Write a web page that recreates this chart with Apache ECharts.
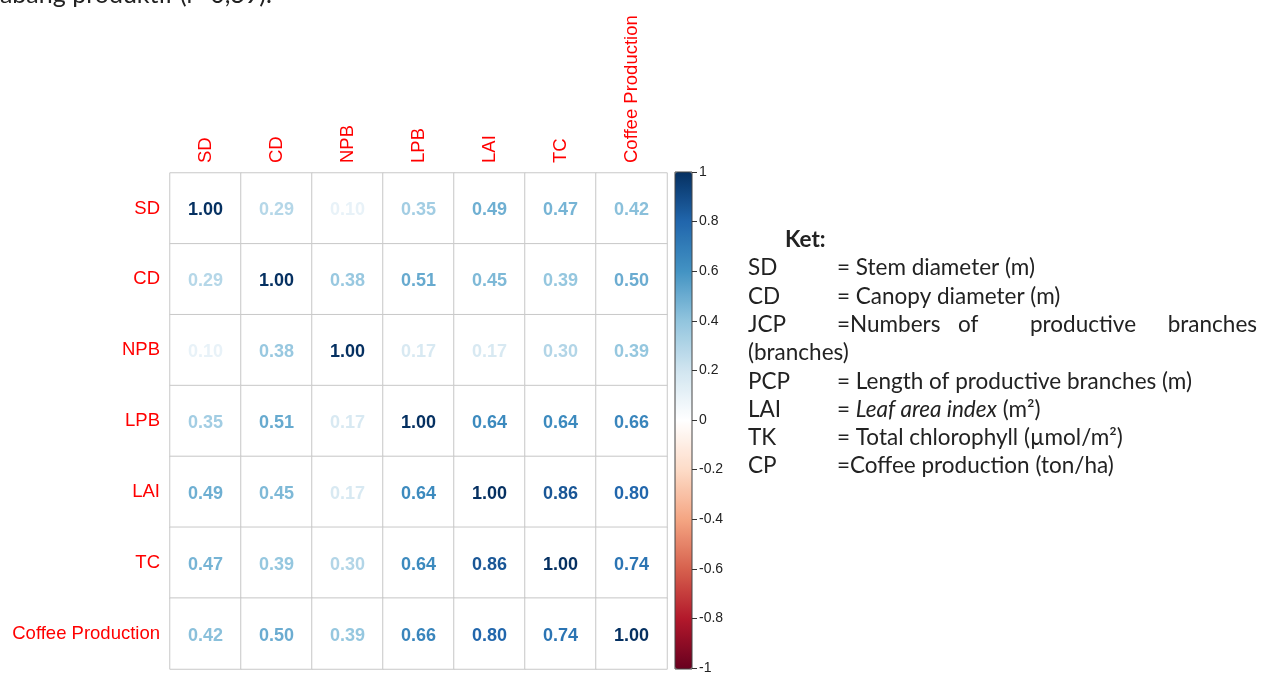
<!DOCTYPE html>
<html>
<head>
<meta charset="utf-8">
<script src="https://cdn.jsdelivr.net/npm/echarts@6/dist/echarts.min.js"></script>
<style>
  html, body { margin: 0; padding: 0; background: #fff; }
  #main { width: 1268px; height: 675px; }
</style>
</head>
<body>
<div id="main"></div>
<script>
// variable names (same order for rows and columns)
var vars = ['SD', 'CD', 'NPB', 'LPB', 'LAI', 'TC', 'Coffee Production'];

// correlation matrix, one row per variable
var rowSD  = [1.00, 0.29, 0.10, 0.35, 0.49, 0.47, 0.42];
var rowCD  = [0.29, 1.00, 0.38, 0.51, 0.45, 0.39, 0.50];
var rowNPB = [0.10, 0.38, 1.00, 0.17, 0.17, 0.30, 0.39];
var rowLPB = [0.35, 0.51, 0.17, 1.00, 0.64, 0.64, 0.66];
var rowLAI = [0.49, 0.45, 0.17, 0.64, 1.00, 0.86, 0.80];
var rowTC  = [0.47, 0.39, 0.30, 0.64, 0.86, 1.00, 0.74];
var rowCP  = [0.42, 0.50, 0.39, 0.66, 0.80, 0.74, 1.00];

// colour bar ticks
var barTicks = [1, 0.8, 0.6, 0.4, 0.2, 0, -0.2, -0.4, -0.6, -0.8, -1];

// RdBu palette, -1 .. 1
var palette = ['#67001F', '#B2182B', '#D6604D', '#F4A582', '#FDDBC7', '#FFFFFF',
               '#D1E5F0', '#92C5DE', '#4393C3', '#2166AC', '#053061'];

var rows = [rowSD, rowCD, rowNPB, rowLPB, rowLAI, rowTC, rowCP];

var cells = [];
rows.forEach(function (row, i) {
    row.forEach(function (v, j) {
        cells.push({
            value: [j, i, v],
            label: { color: echarts.color.lerp((v + 1) / 2, palette) }
        });
    });
});

var chart = echarts.init(document.getElementById('main'));

var labelFont = 'Liberation Sans, Arial, sans-serif';
var noteFont = 'Lato, Carlito, Calibri, sans-serif';

function note(x, y, text, extra) {
    var st = {
        text: text,
        x: 0, y: 0,
        font: '22.5px ' + noteFont,
        fill: '#222',
        verticalAlign: 'middle'
    };
    if (extra) { Object.assign(st, extra); }
    return { type: 'text', x: x, y: y, style: st };
}

var option = {
    animation: false,
    grid: [
        { left: 170, top: 173, width: 497, height: 496 },
        { left: 675, top: 172, width: 17, height: 497, show: true,
          borderColor: '#444', borderWidth: 1, backgroundColor: 'transparent', z: 10 },
        // thin strip right of the colour bar that carries the tick axis
        { left: 692, top: 172, width: 30, height: 497 }
    ],
    xAxis: [
        {
            type: 'category', data: vars, position: 'top', gridIndex: 0,
            axisLine: { show: false }, axisTick: { show: false }, splitLine: { show: false },
            axisLabel: { rotate: -90, color: '#FF0000', fontSize: 18.5, fontFamily: labelFont, margin: 10 }
        },
        { type: 'value', gridIndex: 1, min: 0, max: 1, show: false },
        { type: 'value', gridIndex: 2, min: 0, max: 1, show: false }
    ],
    yAxis: [
        {
            type: 'category', data: vars, inverse: true, gridIndex: 0,
            axisLine: { show: false }, axisTick: { show: false }, splitLine: { show: false },
            axisLabel: { color: '#FF0000', fontSize: 18.5, fontFamily: labelFont, margin: 10 }
        },
        { type: 'value', gridIndex: 1, min: -1, max: 1, show: false },
        {
            type: 'value', gridIndex: 2, position: 'left', min: -1, max: 1, interval: 0.2, z: 12,
            axisLine: { show: false },
            splitLine: { show: false },
            axisTick: { show: true, inside: true, length: 5, lineStyle: { color: '#333', width: 1 } },
            axisLabel: {
                inside: true,
                color: '#222', fontSize: 14, fontFamily: labelFont, margin: 7,
                formatter: function (v) {
                    var r = Math.round(v * 10) / 10;
                    return barTicks.indexOf(r) >= 0 ? String(r) : '';
                }
            }
        }
    ],
    visualMap: {
        type: 'continuous', min: -1, max: 1, seriesIndex: 1,
        left: 675, top: 172, itemWidth: 17, itemHeight: 497, padding: 0,
        calculable: false, text: null, hoverLink: false,
        inRange: { color: palette }
    },
    series: [
        {
            type: 'heatmap', xAxisIndex: 0, yAxisIndex: 0,
            data: cells,
            itemStyle: { color: '#fff', borderColor: '#c8c8c8', borderWidth: 1 },
            label: {
                show: true, fontSize: 18, fontWeight: 'bold', fontFamily: labelFont,
                offset: [0, 2],
                formatter: function (p) { return p.value[2].toFixed(2); }
            },
            emphasis: { disabled: true }
        },
        { type: 'scatter', xAxisIndex: 1, yAxisIndex: 1, data: [] },
        { type: 'scatter', xAxisIndex: 2, yAxisIndex: 2, data: [] }
    ],
    graphic: [
        note(-12, -5, 'cabang produktif (r=0,39).', { font: '25px ' + noteFont }),
        note(785, 240, 'Ket:', { font: 'bold 22.5px ' + noteFont }),
        note(748, 268, 'SD'),
        note(837, 268, '= Stem diameter (m)'),
        note(748, 297, 'CD'),
        note(837, 297, '= Canopy diameter (m)'),
        note(748, 325, 'JCP'),
        note(837, 325, '=Numbers'),
        note(958, 325, 'of'),
        note(1030, 325, 'productive'),
        note(1257, 325, 'branches', { align: 'right' }),
        note(748, 353, '(branches)'),
        note(748, 382, 'PCP'),
        note(837, 382, '= Length of productive branches (m)'),
        note(748, 410, 'LAI'),
        {
            type: 'text', x: 837, y: 410,
            style: {
                text: '= {i|Leaf area index} (m²)',
                font: '22.5px ' + noteFont, fill: '#222', verticalAlign: 'middle',
                rich: { i: { fontStyle: 'italic', fontSize: 22.5, fontFamily: noteFont, fill: '#222' } }
            }
        },
        note(748, 438, 'TK'),
        note(837, 438, '= Total chlorophyll (µmol/m²)'),
        note(748, 466, 'CP'),
        note(837, 466, '=Coffee production (ton/ha)')
    ]
};

chart.setOption(option);
</script>
</body>
</html>
